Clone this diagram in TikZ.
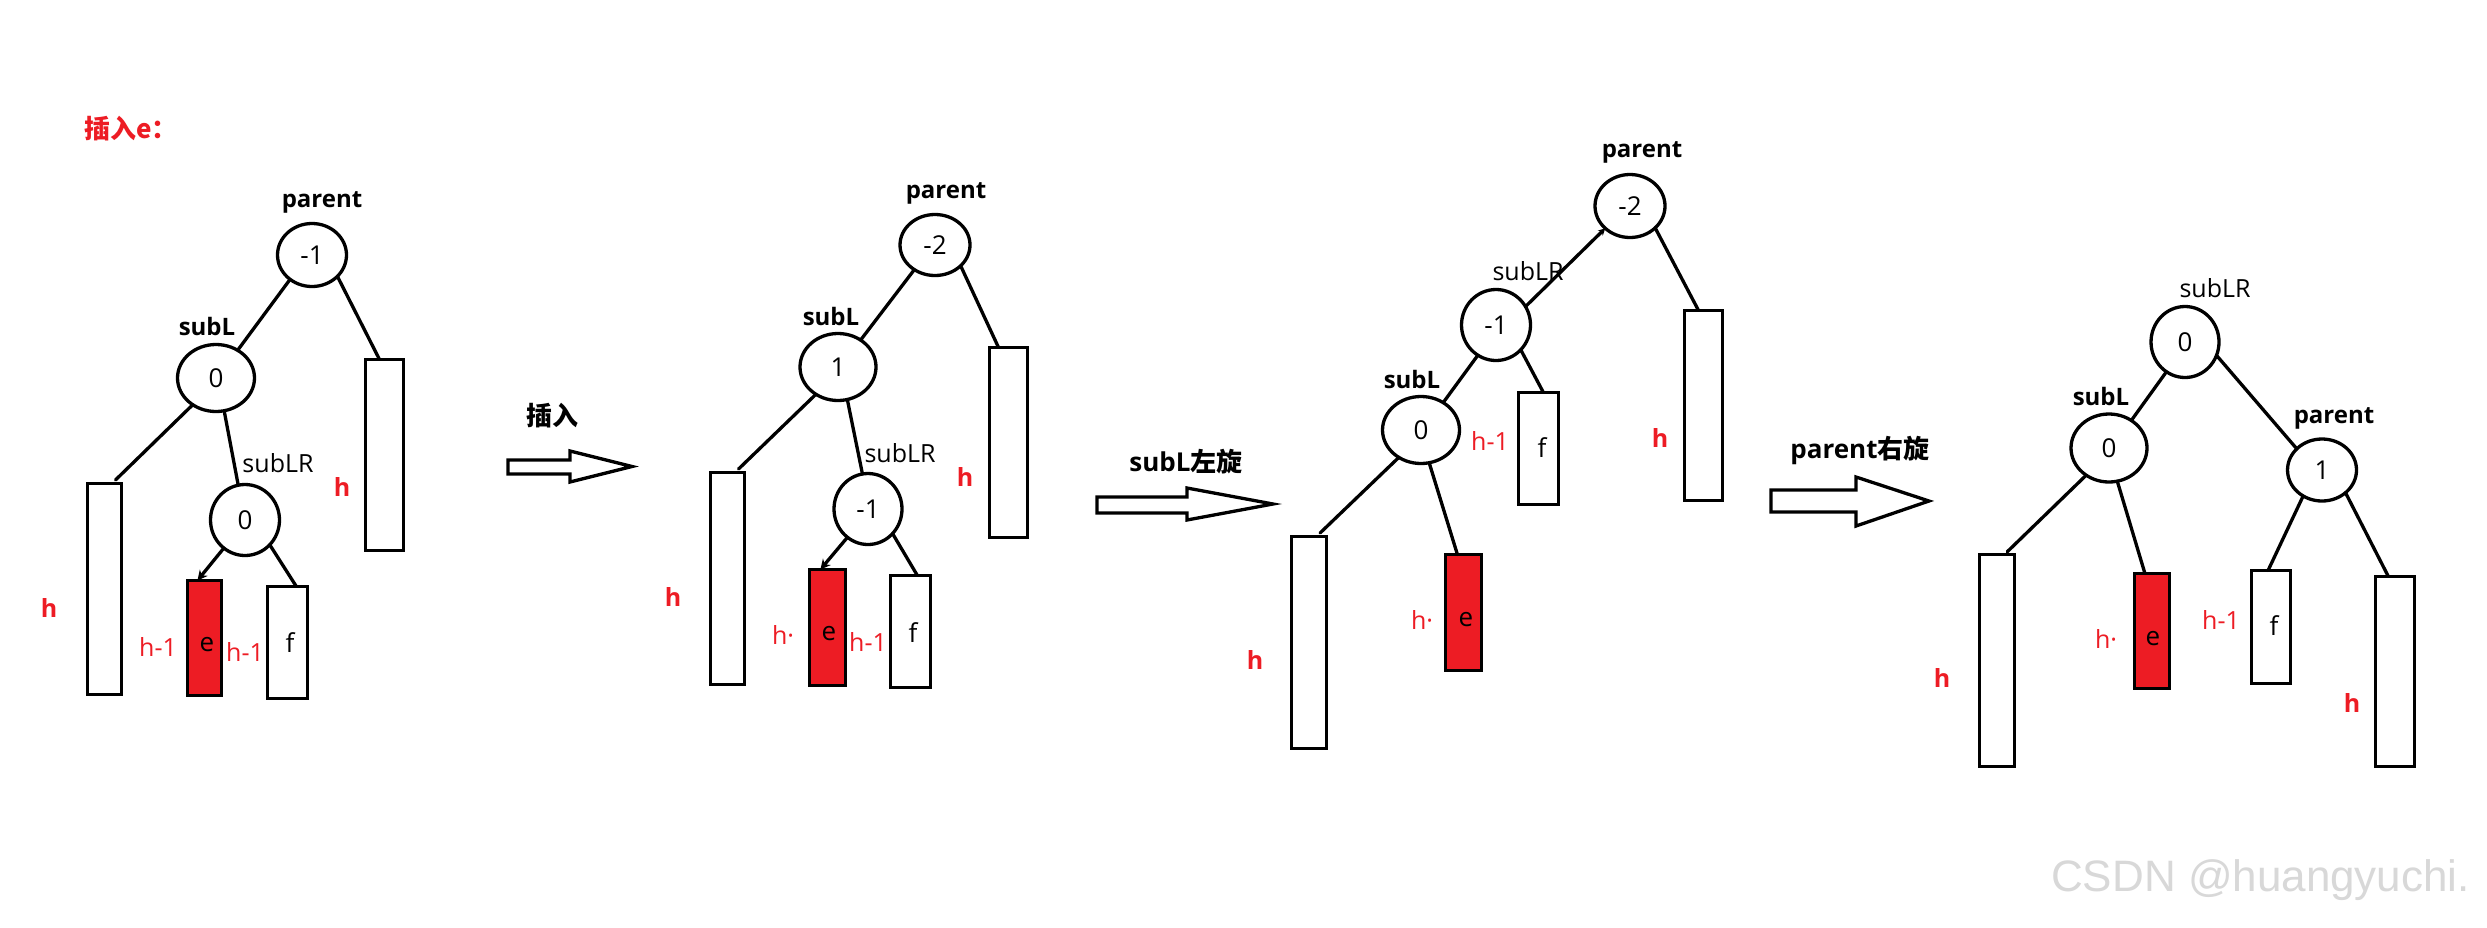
\documentclass[tikz,border=0pt]{standalone}
\usepackage{fontspec}
\setmainfont{Open Sans}
\newfontfamily\zhfont{Noto Sans CJK SC}
\newfontfamily\wmfont{Liberation Sans}
\usetikzlibrary{shapes.geometric,arrows.meta}
\definecolor{pred}{RGB}{237,28,36}
\definecolor{wmgray}{RGB}{216,216,216}
\tikzset{
  every node/.style={inner sep=0pt, outer sep=0pt},
  circ/.style={ellipse, draw, line width=3.3pt, font=\fontsize{26}{30}\selectfont},
  box/.style={rectangle, draw, line width=3.3pt, fill=white},
  redbox/.style={box, fill=pred},
  conn/.style={line width=3.3pt, line cap=round},
  tip/.style={-{Stealth[length=10pt,width=10pt]}},
  boldlbl/.style={font=\bfseries\fontsize{24}{28}\selectfont},
  plainlbl/.style={font=\fontsize{25}{30}\selectfont},
  hbold/.style={text=pred, font=\bfseries\fontsize{25}{28}\selectfont},
  hplain/.style={text=pred, font=\fontsize{25}{28}\selectfont},
  leaf/.style={font=\fontsize{26}{30}\selectfont},
  zhlbl/.style={font=\bfseries\fontsize{26}{30}\selectfont},
  blockarrow/.style={draw, line width=3.3pt, fill=white, line join=miter},
}
\begin{document}
\begin{tikzpicture}[x=1pt,y=-1pt]
\useasboundingbox (0,0) rectangle (2487,927);
\fill[white] (0,0) rectangle (2487,927);

% title
\node[zhlbl, text=pred, anchor=west] (title) at (84,129) {\zhfont\bfseries 插入e：};

% ---------------- Tree 1 ----------------
\node[boldlbl] (t1pl) at (322,202) {parent};
\node[circ, minimum width=69pt, minimum height=63pt] (t1p) at (312,255) {-1};
\node[boldlbl] (t1sl) at (207,326) {subL};
\node[circ, minimum width=77pt, minimum height=67pt] (t1s) at (216,378) {0};
\node[plainlbl] (t1lrl) at (278,463) {subLR};
\node[circ, minimum width=69pt, minimum height=71pt] (t1lr) at (245,520) {0};
\node[box, minimum width=34pt, minimum height=211pt] (t1a) at (104.5,589) {};
\node[redbox, minimum width=34pt, minimum height=115pt] (t1e) at (204.5,638) {};
\node[box, minimum width=40pt, minimum height=112pt] (t1f) at (287.5,642.5) {};
\node[box, minimum width=38pt, minimum height=191pt] (t1d) at (384.5,455) {};
\node[hbold] (t1h1) at (49,608) {h};
\node[hbold] (t1h2) at (342,487) {h};
\node[hplain] (t1h3) at (158,647) {h-1};
\node[hplain] (t1h4) at (245,652) {h-1};
\node[leaf] (t1et) at (207,645) {e};
\node[leaf] (t1ft) at (290,643) {f};
\draw[conn] (t1p.-132) -- (t1s.52);
\draw[conn] (t1p.-40) -- (t1d.93);
\draw[conn, shorten >=5pt] (t1s.-131) -- (t1a.86);
\draw[conn] (t1s.-76) -- (t1lr.101);
\draw[conn, tip] (t1lr.-127) -- (t1e.97);
\draw[conn] (t1lr.-45) -- (t1f.81);

% arrow 1
\node[zhlbl] (a1l) at (552,416) {\zhfont\bfseries 插入};
\draw[blockarrow] (508,460) -- (570,460) -- (570,451) -- (632,466.5) -- (570,482) -- (570,474) -- (508,474) -- cycle;

% ---------------- Tree 2 ----------------
\node[boldlbl] (t2pl) at (946,193) {parent};
\node[circ, minimum width=70pt, minimum height=61pt] (t2p) at (935,245) {-2};
\node[boldlbl] (t2sl) at (831,316) {subL};
\node[circ, minimum width=76pt, minimum height=67pt] (t2s) at (838,367) {1};
\node[plainlbl] (t2lrl) at (900,453) {subLR};
\node[circ, minimum width=68pt, minimum height=71pt] (t2lr) at (868,509) {-1};
\node[box, minimum width=34pt, minimum height=212pt] (t2a) at (727.5,578.5) {};
\node[redbox, minimum width=36pt, minimum height=116pt] (t2e) at (827.5,627.5) {};
\node[box, minimum width=40pt, minimum height=112pt] (t2f) at (910.5,631.5) {};
\node[box, minimum width=38pt, minimum height=190pt] (t2d) at (1008.5,442.5) {};
\node[hbold] (t2h1) at (673,597) {h};
\node[hbold] (t2h2) at (965,477) {h};
\node[hplain] (t2h3) at (783,635) {h·};
\node[hplain] (t2h4) at (868,642) {h-1};
\node[leaf] (t2et) at (829,634) {e};
\node[leaf] (t2ft) at (913,633) {f};
\draw[conn] (t2p.-130) -- (t2s.50);
\draw[conn] (t2p.-39) -- (t2d.96);
\draw[conn, shorten >=5pt] (t2s.-129) -- (t2a.86);
\draw[conn] (t2s.-74) -- (t2lr.99);
\draw[conn, tip] (t2lr.-126) -- (t2e.97);
\draw[conn] (t2lr.-45) -- (t2f.83);

% arrow 2
\node[zhlbl] (a2l) at (1186,462) {subL{\zhfont\bfseries 左旋}};
\draw[blockarrow] (1097,497) -- (1187,497) -- (1187,488) -- (1273,504) -- (1187,520) -- (1187,513) -- (1097,513) -- cycle;

% ---------------- Tree 3 ----------------
\node[boldlbl] (t3pl) at (1642,152) {parent};
\node[circ, minimum width=70pt, minimum height=63pt] (t3p) at (1630,206) {-2};
\node[plainlbl] (t3lrl) at (1528,271) {subLR};
\node[circ, minimum width=69pt, minimum height=71pt] (t3lr) at (1496,325) {-1};
\node[boldlbl] (t3sl) at (1412,379) {subL};
\node[circ, minimum width=77pt, minimum height=67pt] (t3s) at (1421,430) {0};
\node[box, minimum width=35pt, minimum height=212pt] (t3a) at (1309,642.5) {};
\node[redbox, minimum width=36pt, minimum height=116pt] (t3e) at (1463.5,612.5) {};
\node[box, minimum width=40pt, minimum height=112pt] (t3f) at (1538.5,448.5) {};
\node[box, minimum width=38pt, minimum height=190pt] (t3d) at (1703.5,405.5) {};
\node[hbold] (t3h1) at (1255,660) {h};
\node[hbold] (t3h2) at (1660,438) {h};
\node[hplain] (t3h3) at (1422,620) {h·};
\node[hplain] (t3h4) at (1490,441) {h-1};
\node[leaf] (t3et) at (1466,620) {e};
\node[leaf] (t3ft) at (1542,448) {f};
\draw[conn, -{Stealth[length=7pt,width=7pt]}] (t3lr.32) -- (t3p.-138);
\draw[conn] (t3p.-41) -- (t3d.93);
\draw[conn] (t3lr.-45) -- (t3f.85);
\draw[conn] (t3lr.-121) -- (t3s.51);
\draw[conn, shorten >=5pt] (t3s.-129) -- (t3a.86);
\draw[conn] (t3s.-76) -- (t3e.96);

% arrow 3
\node[zhlbl] (a3l) at (1860,450) {parent{\zhfont\bfseries 右旋}};
\draw[blockarrow] (1771,490) -- (1856,490) -- (1856,477) -- (1929,501) -- (1856,526) -- (1856,512) -- (1771,512) -- cycle;

% ---------------- Tree 4 ----------------
\node[plainlbl] (t4rl) at (2215,288) {subLR};
\node[circ, minimum width=68pt, minimum height=71pt] (t4r) at (2185,342) {0};
\node[boldlbl] (t4sl) at (2101,396) {subL};
\node[circ, minimum width=76pt, minimum height=68pt] (t4s) at (2109,448) {0};
\node[boldlbl] (t4pl) at (2334,418) {parent};
\node[circ, minimum width=69pt, minimum height=62pt] (t4p) at (2322,470) {1};
\node[box, minimum width=35pt, minimum height=212pt] (t4a) at (1997,660.5) {};
\node[redbox, minimum width=35pt, minimum height=115pt] (t4e) at (2152,631) {};
\node[box, minimum width=39pt, minimum height=113pt] (t4f) at (2271,627) {};
\node[box, minimum width=39pt, minimum height=190pt] (t4d) at (2395,671.5) {};
\node[hbold] (t4h1) at (1942,678) {h};
\node[hplain] (t4h3) at (2106,639) {h·};
\node[leaf] (t4et) at (2153,639) {e};
\node[hplain] (t4h4) at (2221,620) {h-1};
\node[leaf] (t4ft) at (2274,626) {f};
\node[hbold] (t4h2) at (2352,703) {h};
\draw[conn] (t4r.-122) -- (t4s.51);
\draw[conn] (t4r.-23) -- (t4p.140);
\draw[conn, shorten >=4pt] (t4s.-130) -- (t4a.86);
\draw[conn] (t4s.-76) -- (t4e.97);
\draw[conn] (t4p.-126) -- (t4f.93);
\draw[conn] (t4p.-44) -- (t4d.94);

% watermark
\node[font=\wmfont\fontsize{44}{50}\selectfont, text=wmgray, anchor=east] (wm) at (2470,880) {CSDN @huangyuchi.};
\end{tikzpicture}
\end{document}
